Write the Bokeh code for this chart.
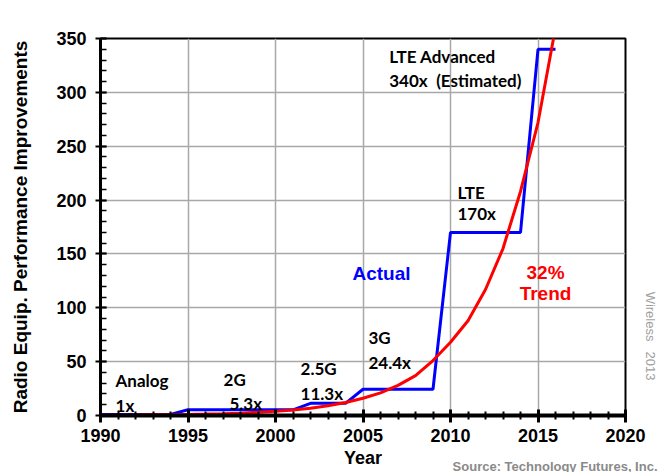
import math
from bokeh.plotting import figure
from bokeh.models import Label, Range1d, SingleIntervalTicker, Title
from bokeh.embed import file_html
from bokeh.resources import INLINE

# Data
actual_years = [1990, 1994, 1995, 2001, 2002, 2004, 2005, 2009, 2010, 2014, 2015, 2016]
actual_vals = [1, 1, 5.3, 5.3, 11.3, 11.3, 24.4, 24.4, 170, 170, 340, 340]

trend_years = list(range(1990, 2017))
trend_vals = [0.3, 0.3, 0.4, 0.6, 0.7, 1.0, 1.3, 1.7, 2.2, 3.0, 3.9, 5.1, 6.8, 9.0,
              12, 16, 21, 28, 37, 51, 68, 88, 117, 155, 208, 272, 360]

x_ticks = [1990, 1995, 2000, 2005, 2010, 2015, 2020]
y_ticks = [0, 50, 100, 150, 200, 250, 300, 350]

W, H = 658, 472
p = figure(width=W, height=H, output_backend="svg", toolbar_location=None,
           x_range=Range1d(1990, 2020), y_range=Range1d(0, 350),
           min_border_left=100, min_border_right=33, min_border_top=38, min_border_bottom=57)
p.background_fill_color = "white"
p.border_fill_color = "white"
p.outline_line_color = "black"
p.outline_line_width = 2

p.xaxis.ticker = SingleIntervalTicker(interval=5, num_minor_ticks=5)
p.yaxis.ticker = SingleIntervalTicker(interval=50, num_minor_ticks=5)
p.xgrid.grid_line_color = "#a8a8a8"
p.ygrid.grid_line_color = "#a8a8a8"
p.xgrid.grid_line_width = 1.5
p.ygrid.grid_line_width = 1.5

for ax in (p.xaxis[0], p.yaxis[0]):
    ax.axis_line_color = "black"
    ax.major_tick_line_color = "black"
    ax.minor_tick_line_color = "black"
    ax.major_label_text_font = "Liberation Sans"
    ax.major_label_text_font_style = "bold"
    ax.major_label_text_font_size = "18px"
    ax.major_label_text_color = "black"
    ax.axis_label_text_font = "Liberation Sans"
    ax.axis_label_text_font_style = "bold"
    ax.axis_label_text_color = "black"

xa = p.xaxis[0]
xa.axis_line_width = 4
xa.major_tick_line_width = 3
xa.minor_tick_line_width = 2
xa.major_tick_in = 6
xa.major_tick_out = 7
xa.minor_tick_in = 4
xa.minor_tick_out = 4
xa.major_label_standoff = 6
xa.axis_label = "Year"
xa.axis_label_text_font_size = "18px"
xa.axis_label_standoff = 3

ya = p.yaxis[0]
ya.axis_line_width = 3
ya.major_tick_line_width = 2
ya.minor_tick_line_width = 1.5
ya.major_tick_in = 6
ya.major_tick_out = 5
ya.minor_tick_in = 6
ya.minor_tick_out = 0
ya.major_label_standoff = 9
ya.axis_label = "Radio Equip. Performance Improvements"
ya.axis_label_text_font_size = "19px"
ya.axis_label_standoff = 22

p.line(actual_years, actual_vals, line_color="#0000ff", line_width=3)
p.line(trend_years, trend_vals, line_color="#ff0000", line_width=3)

def note(x, y, text, color="black", font="Lato", size="17px", align="left", style="bold"):
    p.add_layout(Label(x=x, y=y, text=text, text_color=color, text_font=font,
                       text_font_size=size, text_font_style=style, text_align=align,
                       text_baseline="middle"))

note(1990.86, 32.5, "Analog")
note(1990.86, 9.3, "1x")
note(1997.03, 33.4, "2G")
note(1997.37, 11.1, "5.3x")
note(2001.43, 43.6, "2.5G")
note(2001.43, 20.4, "11.3x")
note(2005.31, 72.4, "3G")
note(2005.31, 49.2, "24.4x")
note(2010.4, 207, "LTE")
note(2010.4, 187.6, "170x")
note(2006.5, 333.3, "LTE Advanced")
note(2006.5, 311, "340x\u2002(Estimated)")
note(2004.4, 131.8, "Actual", color="#0000ff", font="Liberation Sans", size="19px")
note(2015.43, 132.8, "32%", color="#ff0000", font="Liberation Sans", size="19px", align="center")
note(2015.43, 113.3, "Trend", color="#ff0000", font="Liberation Sans", size="19px", align="center")

# spacer panel on the right, then the vertical credit text
p.add_layout(Title(text=" ", standoff=12, text_font_size="1px"), "right")
wt = Title(text="Wireless\u2002 2013", align="right", offset=35, standoff=0,
           vertical_align="top",
           text_color="#a0a0a0", text_font="Liberation Sans", text_font_size="13px",
           text_font_style="normal")
p.add_layout(wt, "right")

st = Title(text="Source: Technology Futures, Inc.", align="right", offset=-32, standoff=-24,
           vertical_align="top",
           text_color="#8a8a8a", text_font="Liberation Sans", text_font_size="13px",
           text_font_style="bold")
p.add_layout(st, "below")

open("out.html", "w").write(file_html(p, INLINE))
